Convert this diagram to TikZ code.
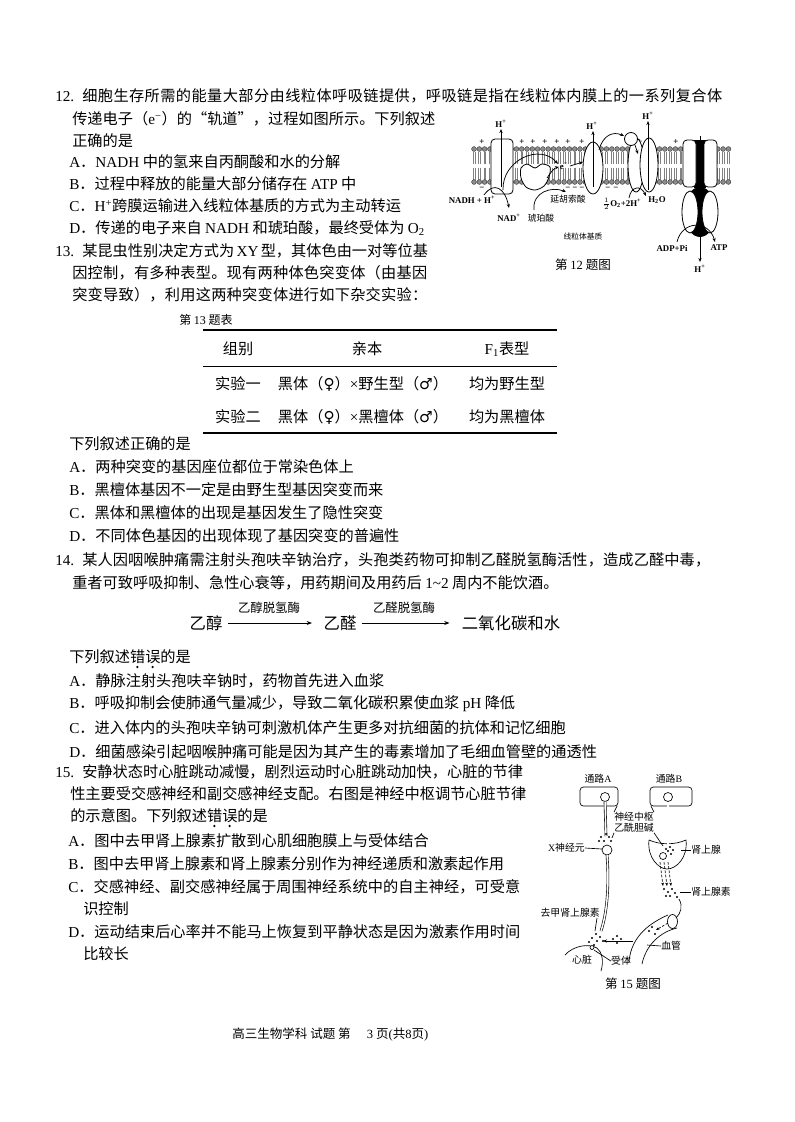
\documentclass[tikz,border=0pt]{standalone}
\usepackage{fontspec}
\setmainfont{Noto Sans CJK SC}
\newfontfamily\lf{Liberation Serif}
\newfontfamily\sym{DejaVu Sans}
\usetikzlibrary{arrows.meta}
\newcommand\stt{\hskip 0pt plus 1fil\relax}
\newXeTeXintercharclass\cjkcls
\makeatletter
\count@="4E00
\loop\XeTeXcharclass\count@=\cjkcls\advance\count@ 1 \ifnum\count@<"A000 \repeat
\count@="3000
\loop\XeTeXcharclass\count@=\cjkcls\advance\count@ 1 \ifnum\count@<"3040 \repeat
\count@="FF00
\loop\XeTeXcharclass\count@=\cjkcls\advance\count@ 1 \ifnum\count@<"FFF0 \repeat
\XeTeXcharclass"201C=\cjkcls
\XeTeXcharclass"201D=\cjkcls
\makeatother
\XeTeXinterchartoks \cjkcls \cjkcls = {\stt}
\XeTeXinterchartoks 0 \cjkcls = {\stt}
\XeTeXinterchartoks \cjkcls 0 = {\stt}
\newcommand\bodyf{\fontsize{11.4}{13}\selectfont}
\newcommand\figf{\fontsize{6.6}{7}\selectfont}
\newcommand\figlf{\fontsize{6.6}{7}\selectfont\lf\bfseries}
\newcommand\capf{\fontsize{9.4}{10}\selectfont}
\newcommand\qn[1]{{\lf #1}\hspace{6pt}}
\newcommand\qjl[5]{\node[tx] (#1) at (#2,#3) {\XeTeXinterchartokenstate=1 \hbox to \dimexpr #4pt*3/4\relax{#5}};}
\newcommand\qnl[4]{\node[tx] (#1) at (#2,#3) {#4};}
\begin{document}
\begin{tikzpicture}[x=0.75pt,y=-0.75pt,
  tx/.style={anchor=west,inner sep=0pt,font=\bodyf},
  ct/.style={inner sep=0pt,font=\bodyf},
  rx/.style={inner sep=0pt,font=\fontsize{12.3}{13}\selectfont},
  enz/.style={inner sep=0pt,font=\fontsize{9.3}{10}\selectfont},
  capt/.style={inner sep=0pt,font=\capf},
  fl/.style={inner sep=0pt,font=\figlf},
  fc/.style={inner sep=0pt,font=\figf},
  f15/.style={inner sep=0pt,font=\fontsize{7.4}{8}\selectfont},
  ln/.style={line width=0.5pt},
  arr/.style={line width=0.55pt,-{Stealth[length=3pt,width=2.4pt]}},
  rarr/.style={line width=0.6pt,-{Stealth[length=4pt,width=3pt]}},
  prot/.style={draw,line width=0.6pt,fill=white},
  headc/.style={draw=black!80,line width=0.3pt,fill=black!45},
  tailc/.style={draw=black!50,line width=0.25pt},
  axon/.style={draw=black,line width=0.45pt,double=white,double distance=1.1pt},
  rulek/.style={line width=1.2pt},
  rulen/.style={line width=0.55pt},
  emdot/.style={fill=black},
]
\useasboundingbox (0,0) rectangle (794,1122);
\fill[white] (0,0) rectangle (794,1122);

% ---------------- Question 12 ----------------
\qjl{q12a}{55}{96}{667}{\qn{12.}细胞生存所需的能量大部分由线粒体呼吸链提供，呼吸链是指在线粒体内膜上的一系列复合体}
\qjl{q12b}{72}{119}{355}{传递电子（{\lf e\textsuperscript{−}}）的“轨道”，过程如图所示。下列叙述}
\qnl{q12c}{72}{141}{正确的是}
\qnl{q12A}{69}{162}{{\lf A}．{\lf NADH} 中的氢来自丙酮酸和水的分解}
\qnl{q12B}{69}{184}{{\lf B}．过程中释放的能量大部分储存在 {\lf ATP} 中}
\qnl{q12C}{69}{206}{{\lf C}．{\lf H\textsuperscript{+}}跨膜运输进入线粒体基质的方式为主动转运}
\qnl{q12D}{69}{228}{{\lf D}．传递的电子来自 {\lf NADH} 和琥珀酸，最终受体为 {\lf O\textsubscript{2}}}

% ---------------- Figure 12 ----------------
\foreach \x in {474,479.3,...,733}{
  \draw[tailc] (\x-0.9,151.5)--(\x-0.9,163.5) (\x+0.9,151.5)--(\x+0.9,163.5)
               (\x-0.9,167.5)--(\x-0.9,179.5) (\x+0.9,167.5)--(\x+0.9,179.5);
  \draw[headc] (\x,149) circle (2.4) (\x,182) circle (2.4);
}
\foreach \x [count=\i] in {482,510,522,533,545,557,568,582,640,676}{\node[fl] (pl\i) at (\x,142.5) {+};}
\foreach \x [count=\i] in {482,568,575,582,608,616}{\node[fl] (mi\i) at (\x,189) {−};}
% complex I
\draw[prot,rounded corners=3pt] (491,139) rectangle (513,194);
% complex II
\draw[prot] plot[smooth cycle] coordinates {(521,168) (527,164) (535,168) (542,164) (550,167) (549,177) (544,186) (535,190) (526,187) (521,178)};
% complex III
\draw[prot] (593,168) ellipse [x radius=10,y radius=26];
% complex IV
\draw[prot] (636,165) ellipse [x radius=8,y radius=27];
\draw[prot] (649,165) ellipse [x radius=9,y radius=27];
\draw[prot] (631,139) circle (6.5);
% ATP synthase
\fill (694,140) rectangle (706,188);
\draw[prot,rounded corners=3pt] (683,140) rectangle (696,187);
\draw[prot,rounded corners=3pt] (704,140) rectangle (717,187);
\fill (700,212) ellipse [x radius=16,y radius=25];
\draw[prot] (690,212) ellipse [x radius=8,y radius=21];
\draw[prot] (710,212) ellipse [x radius=8,y radius=21];
% proton arrows
\draw[arr] (501,187) -- (501,129);
\draw[arr] (593,187) -- (593,131);
\draw[arr] (648,190) -- (648,121);
\draw[arr] (700,136) -- (700,262);
\node[fl] (h1) at (501,124) {H\textsuperscript{+}};
\node[fl] (h2) at (592,126) {H\textsuperscript{+}};
\node[fl] (h3) at (648,116) {H\textsuperscript{+}};
\node[fl] (h4) at (700,269) {H\textsuperscript{+}};
% electron flow
\draw[arr] (484,195) .. controls (494,181) and (505,188) .. (509,208);
\draw[arr] (503,190) .. controls (502,160) and (540,143) .. (558,164);
\draw[arr] (534,210) .. controls (532,192) and (552,186) .. (566,192);
\draw[arr] (547,178) .. controls (551,172) and (554,168) .. (559,167);
\node[fl] (em) at (564,166) {e\textsuperscript{−}};
\draw[arr] (570,166) -- (583,162);
\draw[arr] (599,150) .. controls (603,135) and (613,131) .. (624,136);
\draw[arr] (635,145) -- (638,154);
\draw[arr] (629,198) .. controls (631,186) and (641,185) .. (646,196);
\draw[arr] (677,242) .. controls (682,220) and (709,220) .. (715,242);
% labels
\node[fl] (nadh) at (472,200) {NADH + H\textsuperscript{+}};
\node[fl] (nad) at (509,218) {NAD\textsuperscript{+}};
\node[fc] (succ) at (541,218) {琥珀酸};
\node[fc] (fum) at (568,199) {延胡索酸};
\node[fl] (o2) at (622,204) {$\frac{1}{2}$O\textsubscript{2}+2H\textsuperscript{+}};
\node[fl] (h2o) at (657,200) {H\textsubscript{2}O};
\node[inner sep=0pt,font=\fontsize{5.8}{6}\selectfont] (matrix) at (583,237) {线粒体基质};
\node[fl] (adp) at (672,248) {ADP+Pi};
\node[fl] (atp) at (719,248) {ATP};
\node[capt] (cap12) at (583,265) {第 {\lf 12} 题图};

% ---------------- Question 13 ----------------
\qjl{q13a}{55}{251}{372}{\qn{13.}某昆虫性别决定方式为 {\lf XY} 型，其体色由一对等位基}
\qjl{q13b}{72}{273}{355}{因控制，有多种表型。现有两种体色突变体（由基因}
\qjl{q13c}{72}{295}{355}{突变导致），利用这两种突变体进行如下杂交实验：}
\node[inner sep=0pt,anchor=west,font=\fontsize{9}{10}\selectfont] (ttl) at (179,320) {第 {\lf 13} 题表};
\draw[rulek] (203,330) -- (557,330);
\draw[rulen] (203,366) -- (557,366);
\draw[rulek] (203,433) -- (557,433);
\node[ct] (th1) at (238,349) {组别};
\node[ct] (th2) at (367,349) {亲本};
\node[ct] (th3) at (507,349) {{\lf F\textsubscript{1}}表型};
\node[ct] (r11) at (238,384) {实验一};
\node[ct] (r12) at (363,384) {黑体（{\sym ♀}）{\lf ×}野生型（{\sym ♂}）};
\node[ct] (r13) at (507,384) {均为野生型};
\node[ct] (r21) at (238,417) {实验二};
\node[ct] (r22) at (363,417) {黑体（{\sym ♀}）{\lf ×}黑檀体（{\sym ♂}）};
\node[ct] (r23) at (507,417) {均为黑檀体};
\qnl{q13q}{69}{444}{下列叙述正确的是}
\qnl{q13A}{69}{467}{{\lf A}．两种突变的基因座位都位于常染色体上}
\qnl{q13B}{69}{490}{{\lf B}．黑檀体基因不一定是由野生型基因突变而来}
\qnl{q13C}{69}{513}{{\lf C}．黑体和黑檀体的出现是基因发生了隐性突变}
\qnl{q13D}{69}{536}{{\lf D}．不同体色基因的出现体现了基因突变的普遍性}

% ---------------- Question 14 ----------------
\qjl{q14a}{55}{560}{655}{\qn{14.}某人因咽喉肿痛需注射头孢呋辛钠治疗，头孢类药物可抑制乙醛脱氢酶活性，造成乙醛中毒，}
\qnl{q14b}{72}{583}{重者可致呼吸抑制、急性心衰等，用药期间及用药后 {\lf 1\textasciitilde 2} 周内不能饮酒。}
\node[rx] (eth) at (206,623) {乙醇};
\node[rx] (ace) at (340,623) {乙醛};
\node[rx] (co2) at (511,623) {二氧化碳和水};
\draw[rarr,shorten <=4pt,shorten >=8.5pt] (eth) -- (ace);
\draw[rarr,shorten <=4pt,shorten >=9pt] (ace) -- (co2);
\node[enz] (e1) at (269,608) {乙醇脱氢酶};
\node[enz] (e2) at (404,608) {乙醛脱氢酶};
\qnl{q14q}{69}{657}{下列叙述错误的是}
\fill[emdot] ([shift={(68.4,10)}]q14q.west) circle (1.3);
\fill[emdot] ([shift={(83.6,10)}]q14q.west) circle (1.3);
\qnl{q14A}{69}{681}{{\lf A}．静脉注射头孢呋辛钠时，药物首先进入血浆}
\qnl{q14B}{69}{704}{{\lf B}．呼吸抑制会使肺通气量减少，导致二氧化碳积累使血浆 {\lf pH} 降低}
\qnl{q14C}{69}{728}{{\lf C}．进入体内的头孢呋辛钠可刺激机体产生更多对抗细菌的抗体和记忆细胞}
\qnl{q14D}{69}{752}{{\lf D}．细菌感染引起咽喉肿痛可能是因为其产生的毒素增加了毛细血管壁的通透性}

% ---------------- Question 15 ----------------
\qjl{q15a}{55}{772}{465}{\qn{15.}安静状态时心脏跳动减慢，剧烈运动时心脏跳动加快，心脏的节律}
\qjl{q15b}{70}{794}{450}{性主要受交感神经和副交感神经支配。右图是神经中枢调节心脏节律}
\qnl{q15c}{70}{816}{的示意图。下列叙述错误的是}
\fill[emdot] ([shift={(144.4,10)}]q15c.west) circle (1.3);
\fill[emdot] ([shift={(159.6,10)}]q15c.west) circle (1.3);
\qnl{q15A}{68}{841}{{\lf A}．图中去甲肾上腺素扩散到心肌细胞膜上与受体结合}
\qnl{q15B}{68}{864}{{\lf B}．图中去甲肾上腺素和肾上腺素分别作为神经递质和激素起作用}
\qjl{q15C}{68}{887}{452}{{\lf C}．交感神经、副交感神经属于周围神经系统中的自主神经，可受意}
\qnl{q15C2}{83}{909}{识控制}
\qjl{q15D}{68}{932}{452}{{\lf D}．运动结束后心率并不能马上恢复到平静状态是因为激素作用时间}
\qnl{q15D2}{83}{954}{比较长}

% ---------------- Figure 15 ----------------
\node[f15] (pA) at (598,779) {通路{\lf A}};
\node[f15] (pB) at (669,779) {通路{\lf B}};
\draw[ln,rounded corners=2.5pt] (580,787) rectangle (618,806);
\draw[ln,rounded corners=2.5pt] (650,787) rectangle (692,806);
\draw[ln,fill=white] (605,797) circle (4.5);
\draw[ln,fill=white] (668,797) circle (4.5);
\draw[axon] (605,801.5) -- (606,836);
\foreach \p in {(601,837),(604,841),(609,837),(611,841),(606,834),(599,841)} \fill \p circle (1.2);
\draw[ln,fill=white] (607,850) circle (5);
\draw[axon] (607,855) .. controls (609,880) and (608,910) .. (601,931);
\foreach \p in {(596,934),(600,937),(592,938),(597,941),(603,941),(589,942),(594,945)} \fill \p circle (1.2);
\draw[ln] (565,955) .. controls (573,946) and (588,943) .. (597,948) .. controls (602,952) and (604,961) .. (601,971);
\draw[ln,fill=white] (592,947.5) circle (2);
% adrenal gland
\draw[ln,fill=white] (649,840) .. controls (647,858) and (659,869) .. (667,869) .. controls (676,869) and (688,858) .. (686,840) .. controls (675,845) and (660,845) .. (649,840);
\draw[axon] (668,801.5) -- (668,849);
\draw[ln,fill=white] (663,856) circle (3.5);
\foreach \p in {(668,851),(671,854),(673,850),(666,849),(670,847)} \fill \p circle (1.1);
\foreach \dx in {0,4,8} \draw[ln,dash pattern=on 2pt off 1.2pt,-{Stealth[length=2.5pt,width=2pt]}] (660+\dx,862) -- (663+\dx,886);
\foreach \p in {(664,889),(668,892),(672,889),(670,896),(675,893),(666,896),(677,897)} \fill \p circle (1.2);
\draw[ln] (679,899) .. controls (683,906) and (681,913) .. (676,918);
% blood vessel
\draw[ln] (629,962) .. controls (631,935) and (652,922) .. (668,915);
\draw[ln] (642,964) .. controls (646,945) and (660,932) .. (677,928);
\draw[ln] (672.5,921.5) ellipse [x radius=5,y radius=7];
\draw[ln,dash pattern=on 2pt off 1.2pt,-{Stealth[length=2.5pt,width=2pt]}] (668,923) -- (656,930);
\foreach \p in {(652,927),(649,931),(655,934)} \fill \p circle (1.2);
\draw[arr] (633,941) -- (603,941);
\foreach \p in {(613,939),(617,943),(621,939),(617,936)} \fill \p circle (1.2);
% labels
\node[f15,anchor=east] (xn) at (585,848) {{\lf X}神经元};
\draw[ln] (xn.east) -- (602,849);
\node[f15,anchor=east] (ne) at (600,913) {去甲肾上腺素};
\draw[ln] (597,918) -- (595,931);
\node[f15] (cz) at (582,960) {心脏};
\node[f15] (st) at (621,961) {受体};
\draw[ln] (st.west) -- (594,950);
\node[f15] (zs) at (634,817) {神经中枢};
\draw[ln] (zs.north west) -- (617,806);
\draw[ln] (zs.north east) -- (651,806);
\node[f15] (ach) at (634,828) {乙酰胆碱};
\draw[ln] (ach.south west) -- (612,838);
\draw[ln] (ach.south east) -- (663,846);
\node[f15,anchor=west] (adg) at (691,850) {肾上腺};
\draw[ln] (adg.west) -- (681,850);
\node[f15,anchor=west] (adr) at (691,892) {肾上腺素};
\draw[ln] (adr.west) -- (680,892);
\node[f15,anchor=west] (bv) at (661,946) {血管};
\draw[ln] (647,945) -- (bv.west);
\node[capt] (cap15) at (633,984) {第 {\lf 15} 题图};

% ---------------- footer ----------------
\node[capt,anchor=west] (foot) at (232,1035) {高三生物学科\ 试题\ 第\hspace{1.3em}{\lf 3}\ 页{\lf (}共{\lf 8}页{\lf )}};
\end{tikzpicture}
\end{document}
